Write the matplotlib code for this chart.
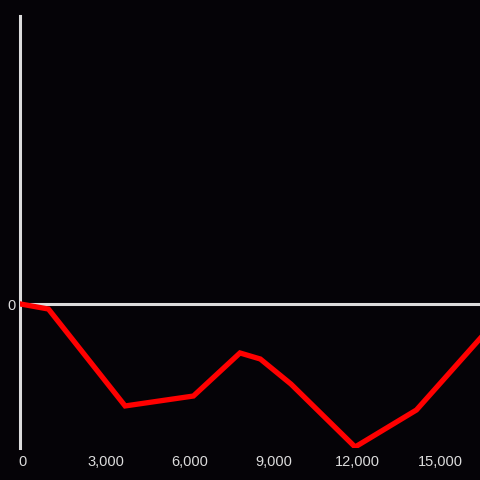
import matplotlib
matplotlib.use("Agg")
import matplotlib.pyplot as plt
import matplotlib.transforms as mtransforms
from matplotlib.ticker import FuncFormatter

# values
x_vals = [0, 1000, 3750, 6200, 7870, 8600, 9700, 12000, 14200, 16500]
y_vals = [0, -35, -708, -639, -340, -382, -556, -993, -736, -236]
x_ticks = [0, 3000, 6000, 9000, 12000, 15000]
y_ticks = [0]

bg = "#050307"
axis_col = "#dcdcdc"

plt.rcParams["font.family"] = ["Liberation Sans", "DejaVu Sans"]

fig = plt.figure(figsize=(4.8, 4.8), dpi=100, facecolor=bg)
ax = fig.add_axes([20 / 480, 32 / 480, 460 / 480, 432 / 480], facecolor=bg)

ax.axhline(0, color=axis_col, lw=2.2, zorder=1)
ax.plot(x_vals, y_vals, color="#ff0000", lw=3.8, solid_joinstyle="miter", zorder=3)

ax.set_xlim(-20, 16480)
ax.set_ylim(-1000, 2000)
ax.set_xticks(x_ticks)
ax.set_yticks(y_ticks)
ax.xaxis.set_major_formatter(FuncFormatter(lambda v, p: f"{int(v):,}"))
ax.tick_params(axis="both", length=0, colors=axis_col, labelsize=10.5)
ax.tick_params(axis="x", pad=5)
ax.tick_params(axis="y", pad=3)

# nudge x labels a little to the right, as in the reference
shift = mtransforms.ScaledTranslation(2 / 100, 0, fig.dpi_scale_trans)
for lbl in ax.get_xticklabels():
    lbl.set_transform(lbl.get_transform() + shift)

for s in ["top", "right", "bottom"]:
    ax.spines[s].set_visible(False)
ax.spines["left"].set_color(axis_col)
ax.spines["left"].set_linewidth(2.2)
ax.spines["left"].set_zorder(2)

fig.savefig("out.png", dpi=100, facecolor=bg)
